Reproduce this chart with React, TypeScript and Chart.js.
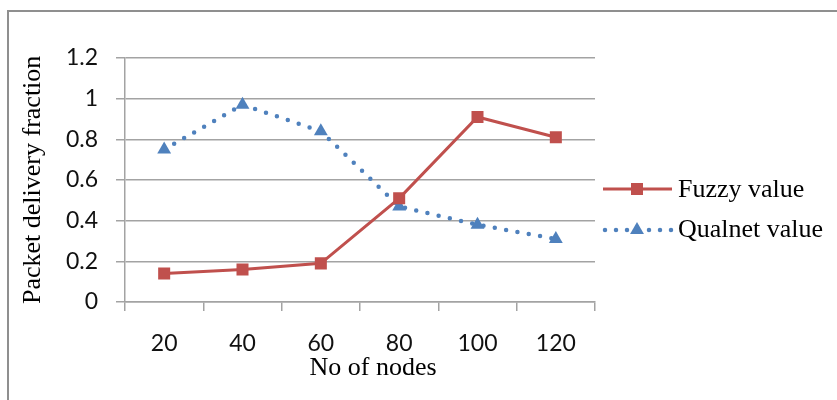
import React, { useEffect, useRef } from "react";
import { Chart, registerables } from "chart.js";

Chart.register(...registerables);

const categories = ["20", "40", "60", "80", "100", "120"];
const fuzzyValues = [0.14, 0.16, 0.19, 0.51, 0.91, 0.81];
const qualnetValues = [0.75, 0.97, 0.84, 0.47, 0.38, 0.31];
const yTickLabels = ["0", "0.2", "0.4", "0.6", "0.8", "1", "1.2"];
const seriesNames = ["Fuzzy value", "Qualnet value"];
const xTitle = "No of nodes";
const yTitle = "Packet delivery fraction";

const RED = "#C0504D";
const BLUE = "#4F81BD";
const GRID = "#a3a3a3";
const SERIF = '"Liberation Serif", "Times New Roman", serif';
const SANS = "Lato";

function drawTriangle(ctx: CanvasRenderingContext2D, cx: number, cy: number, r: number) {
  ctx.beginPath();
  ctx.moveTo(cx, cy - r);
  ctx.lineTo(cx + r * 0.866, cy + r * 0.5);
  ctx.lineTo(cx - r * 0.866, cy + r * 0.5);
  ctx.closePath();
  ctx.fill();
}

const decorPlugin = {
  id: "decor",
  beforeDraw(chart: any) {
    const ctx = chart.ctx as CanvasRenderingContext2D;
    ctx.save();
    ctx.fillStyle = "#fff";
    ctx.fillRect(0, 0, chart.width, chart.height);
    ctx.strokeStyle = "#8f8f8f";
    ctx.lineWidth = 2;
    ctx.beginPath();
    ctx.moveTo(8, chart.height);
    ctx.lineTo(8, 11);
    ctx.lineTo(chart.width, 11);
    ctx.stroke();
    ctx.restore();
  },
  afterDraw(chart: any) {
    const ctx = chart.ctx as CanvasRenderingContext2D;
    ctx.save();
    ctx.fillStyle = "#000";
    ctx.font = `26px ${SERIF}`;
    ctx.textAlign = "center";
    ctx.textBaseline = "alphabetic";
    ctx.fillText(xTitle, 373, 375);
    ctx.save();
    ctx.translate(40, 304);
    ctx.rotate(-Math.PI / 2);
    ctx.textAlign = "left";
    ctx.fillText(yTitle, 0, 0);
    ctx.restore();

    const lx0 = 603, lx1 = 672, mid = 637;
    ctx.strokeStyle = RED;
    ctx.lineWidth = 3;
    ctx.beginPath();
    ctx.moveTo(lx0, 189);
    ctx.lineTo(lx1, 189);
    ctx.stroke();
    ctx.fillStyle = RED;
    ctx.fillRect(mid - 6, 189 - 6, 12, 12);

    ctx.strokeStyle = BLUE;
    ctx.lineWidth = 4.5;
    ctx.lineCap = "round";
    ctx.setLineDash([0, 11]);
    ctx.beginPath();
    ctx.moveTo(lx0 + 2, 230);
    ctx.lineTo(lx1, 230);
    ctx.stroke();
    ctx.setLineDash([]);
    ctx.fillStyle = BLUE;
    drawTriangle(ctx, mid, 230, 8);

    ctx.fillStyle = "#000";
    ctx.textAlign = "left";
    ctx.textBaseline = "alphabetic";
    ctx.fillText(seriesNames[0], 678, 197);
    ctx.fillText(seriesNames[1], 678, 237);
    ctx.restore();
  },
};

export default function App() {
  const ref = useRef<HTMLCanvasElement | null>(null);
  useEffect(() => {
    document.body.style.margin = "0";
    const canvas = ref.current!;
    const chart = new Chart(canvas, {
      type: "line",
      data: {
        labels: categories,
        datasets: [
          {
            label: seriesNames[0],
            data: fuzzyValues,
            borderColor: RED,
            backgroundColor: RED,
            borderWidth: 3,
            pointStyle: "rect",
            pointRadius: 8.5,
            pointBorderWidth: 0,
            pointBackgroundColor: RED,
            tension: 0,
          },
          {
            label: seriesNames[1],
            data: qualnetValues,
            borderColor: BLUE,
            backgroundColor: BLUE,
            borderWidth: 4.5,
            borderDash: [0, 11.5],
            borderCapStyle: "round",
            pointStyle: "triangle",
            pointRadius: 8,
            pointBorderWidth: 0,
            pointBackgroundColor: BLUE,
            tension: 0,
          },
        ],
      },
      options: {
        animation: false,
        responsive: false,
        devicePixelRatio: 1,
        layout: { padding: { left: 0, top: 58, right: 242, bottom: 0 } },
        plugins: { legend: { display: false }, tooltip: { enabled: false } },
        scales: {
          x: {
            offset: true,
            grid: {
              offset: true,
              drawOnChartArea: false,
              drawTicks: true,
              tickLength: 9,
              color: GRID,
              lineWidth: 1.5,
            },
            border: { display: true, color: GRID, width: 1.5 },
            ticks: {
              padding: 19,
              color: "#111",
              font: { family: SANS, size: 23 },
              maxRotation: 0,
            },
            afterFit: (s: any) => {
              s.height = 98;
            },
          },
          y: {
            min: 0,
            max: 1.2,
            ticks: {
              stepSize: 0.2,
              padding: 18,
              color: "#111",
              font: { family: SANS, size: 23 },
              callback: (_v: any, i: number) => yTickLabels[i],
            },
            grid: { color: GRID, lineWidth: 1.5, tickLength: 9, drawTicks: true },
            border: { display: true, color: GRID, width: 1.5 },
            afterFit: (s: any) => {
              s.width = 125;
            },
          },
        },
      },
      plugins: [decorPlugin],
    } as any);
    return () => chart.destroy();
  }, []);
  return (
    <div style={{ width: 837, height: 400 }}>
      <canvas ref={ref} width={837} height={400} style={{ display: "block" }} />
    </div>
  );
}
